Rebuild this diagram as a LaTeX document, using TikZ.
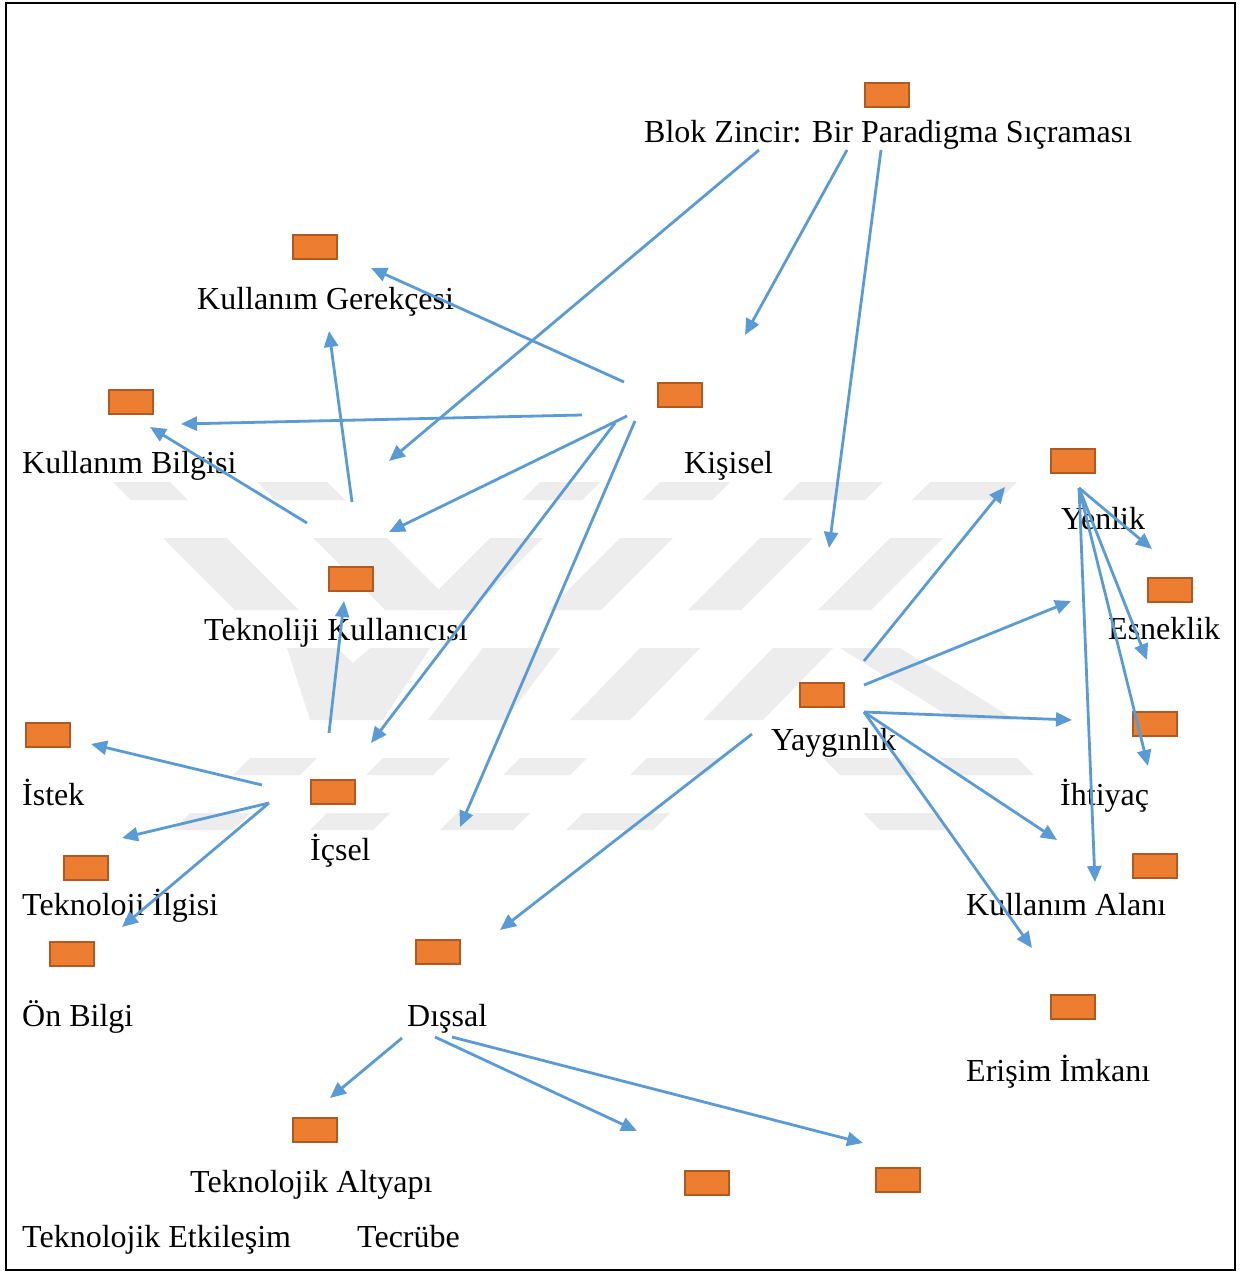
\documentclass[tikz,border=0pt]{standalone}
\usepackage{fontspec}
\setmainfont{Liberation Serif}
\usetikzlibrary{arrows.meta}
\definecolor{boxfill}{RGB}{237,125,49}
\definecolor{boxline}{RGB}{174,90,33}
\definecolor{arrowblue}{RGB}{91,155,213}
\definecolor{wmgray}{RGB}{237,237,237}
\newcommand\wmpiece[5]{\fill[wm] (#1,#3) -- (#2,#3) -- ({#2+#5},#4) -- ({#1+#5},#4) -- cycle;}
\begin{document}
\begin{tikzpicture}[x=1pt,y=-1pt,
  obox/.style={draw=boxline, fill=boxfill, line width=2.2pt, minimum width=44pt, minimum height=24pt, inner sep=0pt},
  lbl/.style={anchor=base west, inner sep=0pt, font=\fontsize{32}{38}\selectfont},
  conn/.style={draw=arrowblue, line width=2.8pt, -{Triangle[length=16pt,width=14pt]}},
  wm/.style={fill=wmgray, draw=none}]
\useasboundingbox (0,0) rectangle (1243,1273);
\fill[white] (0,0) rectangle (1243,1273);
% watermark (approximation)
% band 1
\wmpiece{113}{170}{482}{500}{18}
\wmpiece{257}{327}{482}{500}{18}
\wmpiece{540}{600}{482}{500}{-18}
\wmpiece{660}{730}{482}{500}{-18}
\wmpiece{800}{883}{482}{500}{-18}
\wmpiece{930}{1017}{482}{500}{-18}
% band 2
\wmpiece{163}{227}{538}{610}{72}
\wmpiece{313}{387}{538}{610}{72}
\wmpiece{490}{543}{538}{610}{-72}
\wmpiece{620}{673}{538}{610}{-72}
\wmpiece{760}{813}{538}{610}{-72}
\wmpiece{890}{943}{538}{610}{-72}
% band 3
\fill[wm] (287,648) -- (337,648) -- (353,663) -- (370,648) -- (430,648) -- (383,720) -- (310,720) -- cycle;
\wmpiece{483}{560}{648}{720}{-55}
\wmpiece{640}{700}{648}{720}{-70}
\wmpiece{773}{833}{648}{720}{-70}
\wmpiece{840}{900}{648}{720}{115}
% band 4
\wmpiece{250}{317}{758}{775}{-17}
\wmpiece{383}{450}{758}{775}{-17}
\wmpiece{520}{587}{758}{775}{-17}
\wmpiece{647}{723}{758}{775}{-17}
\wmpiece{823}{900}{758}{775}{17}
\wmpiece{940}{1017}{758}{775}{17}
% band 5
\wmpiece{190}{250}{813}{830}{-17}
\wmpiece{327}{390}{813}{830}{-17}
\wmpiece{457}{530}{813}{830}{-17}
\wmpiece{583}{670}{813}{830}{-17}
\wmpiece{863}{933}{813}{830}{17}
% frame
\draw[line width=2.5pt] (6,3) rectangle (1235,1270);
% boxes
\node[obox] (bBlok) at (887,95) {};
\node[obox] (bGerekce) at (315,247) {};
\node[obox] (bKisisel) at (680,395) {};
\node[obox] (bBilgi) at (131,402) {};
\node[obox] (bYenlik) at (1073,461) {};
\node[obox] (bKullanici) at (351,579) {};
\node[obox] (bEsneklik) at (1170,590) {};
\node[obox] (bYayginlik) at (822,695) {};
\node[obox] (bIhtiyac) at (1155,724) {};
\node[obox] (bIstek) at (48,735) {};
\node[obox] (bIcsel) at (333,792) {};
\node[obox] (bIlgi) at (86,868) {};
\node[obox] (bAlan) at (1155,866) {};
\node[obox] (bOnBilgi) at (72,954) {};
\node[obox] (bDissal) at (438,952) {};
\node[obox] (bErisim) at (1073,1007) {};
\node[obox] (bAltyapi) at (315,1130) {};
\node[obox] (bX) at (707,1183) {};
\node[obox] (bY) at (898,1180) {};
% labels
\node[lbl] (tBlok) at (644,143) {Blok Zincir: Bir Paradigma Sıçraması};
\node[lbl] (tGerekce) at (197,309) {Kullanım Gerekçesi};
\node[lbl] (tBilgi) at (22,473) {Kullanım Bilgisi};
\node[lbl] (tKisisel) at (684,473) {Kişisel};
\node[lbl] (tYenlik) at (1061,529) {Yenlik};
\node[lbl] (tKullanici) at (204,640) {Teknoliji Kullanıcısı};
\node[lbl] (tEsneklik) at (1108,639) {Esneklik};
\node[lbl] (tYayginlik) at (771,750) {Yaygınlık};
\node[lbl] (tIstek) at (22,805) {İstek};
\node[lbl] (tIhtiyac) at (1060,805) {İhtiyaç};
\node[lbl] (tIcsel) at (310,860) {İçsel};
\node[lbl] (tIlgi) at (22,915) {Teknoloji İlgisi};
\node[lbl] (tAlan) at (966,915) {Kullanım Alanı};
\node[lbl] (tOnBilgi) at (22,1026) {Ön Bilgi};
\node[lbl] (tDissal) at (407,1026) {Dışsal};
\node[lbl] (tErisim) at (966,1081) {Erişim İmkanı};
\node[lbl] (tAltyapi) at (190,1192) {Teknolojik Altyapı};
\node[lbl] (tEtkilesim) at (22,1247) {Teknolojik Etkileşim};
\node[lbl] (tTecrube) at (357,1247) {Tecrübe};
% connectors
\foreach \n/\sx/\sy/\ex/\ey in {
  1/759/150/389/461, 2/847/150/745/335, 3/881/150/829/548,
  4/624/382/371/268, 5/582/415/181/424, 6/627/416/389/532,
  7/615/423/371/743, 8/635/421/460/827, 9/352/502/329/331,
  10/307/523/150/427, 11/329/733/344/601, 12/262/785/91/744,
  13/269/803/122/838, 14/269/803/122/927, 15/864/661/1005/487,
  16/864/685/1071/601, 17/864/712/1072/720, 18/864/712/1057/840,
  19/864/712/1032/948, 20/752/734/500/930, 21/1079/488/1152/549,
  22/1079/488/1147/660, 23/1079/488/1148/766, 24/1079/488/1095/882,
  25/402/1038/330/1098, 26/435/1037/637/1131, 27/452/1037/863/1143}{
  \coordinate (s\n) at (\sx,\sy);
  \coordinate (e\n) at (\ex,\ey);
  \draw[conn] (s\n) -- (e\n);
}
\end{tikzpicture}
\end{document}
